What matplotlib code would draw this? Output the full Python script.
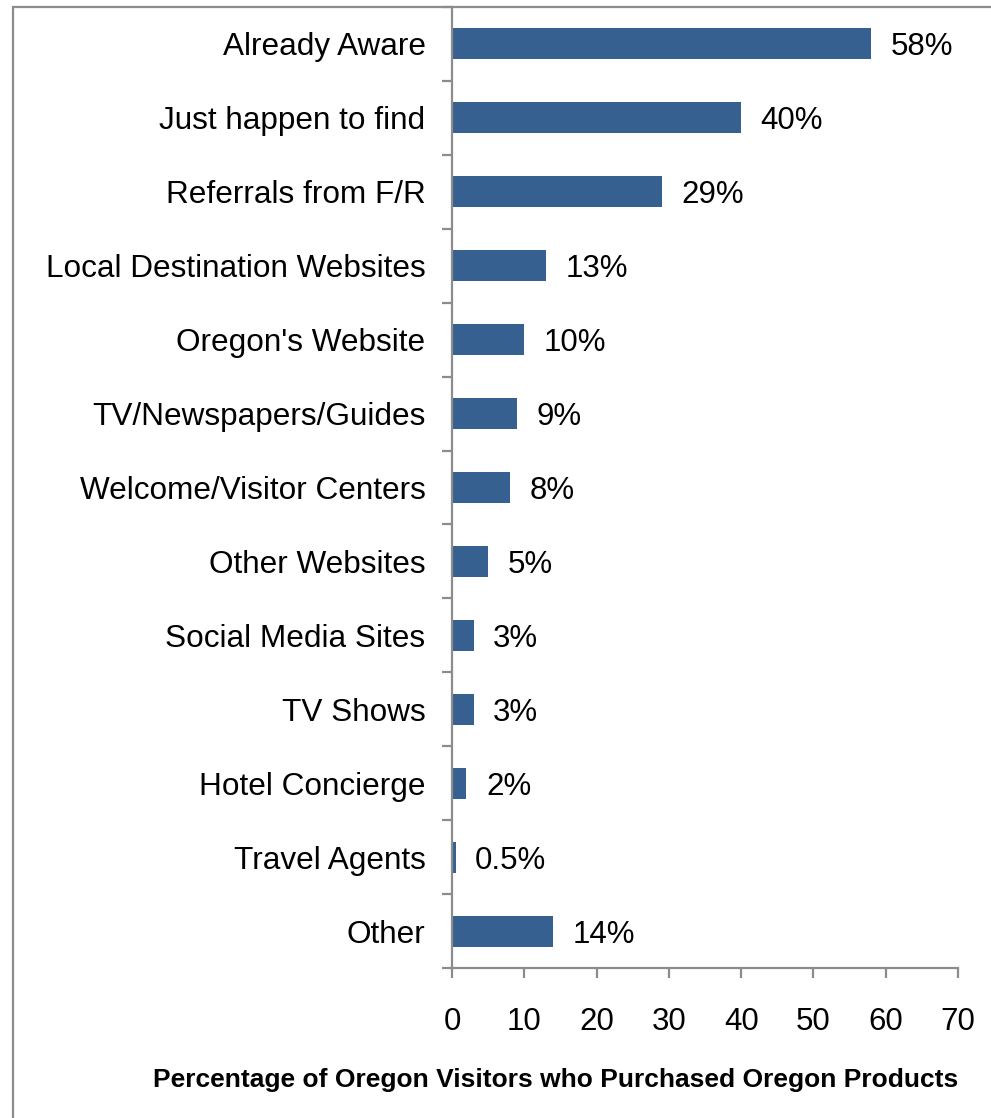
import numpy as np
import matplotlib.pyplot as plt
from matplotlib.patches import Rectangle

# survey answers, top to bottom
sources = ["Already Aware", "Just happen to find", "Referrals from F/R",
           "Local Destination Websites", "Oregon's Website", "TV/Newspapers/Guides",
           "Welcome/Visitor Centers", "Other Websites", "Social Media Sites",
           "TV Shows", "Hotel Concierge", "Travel Agents", "Other"]
pct = [58, 40, 29, 13, 10, 9, 8, 5, 3, 3, 2, 0.5, 14]
pct_labels = ["58%", "40%", "29%", "13%", "10%", "9%", "8%", "5%", "3%",
              "3%", "2%", "0.5%", "14%"]
xticks = [0, 10, 20, 30, 40, 50, 60, 70]

plt.rcParams['font.family'] = ['Liberation Sans', 'DejaVu Sans']
grey = '#8c8c8c'
blue = '#36608f'

fig = plt.figure(figsize=(9.91, 11.18), dpi=100)
W, H = 991, 1118
ax = fig.add_axes([452/W, 1-968/H, (958-452)/W, (968-7)/H])

# outer frame (runs off the right and bottom edges)
fig.patches.append(Rectangle((13/W, -0.1), 1.2, 1-7/H+0.1, transform=fig.transFigure,
                             fill=False, edgecolor=grey, linewidth=1.6))

y = np.arange(len(sources))
ax.barh(y, pct, height=0.42, color=blue)
for yi, v, lab in zip(y, pct, pct_labels):
    ax.text(v + 2.7, yi, lab, va='center_baseline', ha='left', fontsize=22.5)

ax.set_ylim(len(sources) - 0.5, -0.5)
ax.set_xlim(0, 70)
ax.set_xticks(xticks)
ax.set_yticks(y)
ax.set_yticklabels(sources, fontsize=22.7)
ax.set_yticks(np.arange(len(sources) + 1) - 0.5, minor=True)
ax.tick_params(axis='y', which='major', length=0, pad=19)
ax.tick_params(axis='y', which='minor', length=7, width=1.6, color=grey, direction='out')
ax.tick_params(axis='x', length=7, width=1.6, color=grey, direction='out', pad=21,
               labelsize=22.5)

for s in ['top', 'right']:
    ax.spines[s].set_visible(False)
for s in ['left', 'bottom']:
    ax.spines[s].set_color(grey)
    ax.spines[s].set_linewidth(1.6)

fig.text(958/W, 1-1080/H, "Percentage of Oregon Visitors who Purchased Oregon Products",
         ha='right', va='center', fontsize=19, fontweight='bold')

fig.savefig('out.png', dpi=100)
